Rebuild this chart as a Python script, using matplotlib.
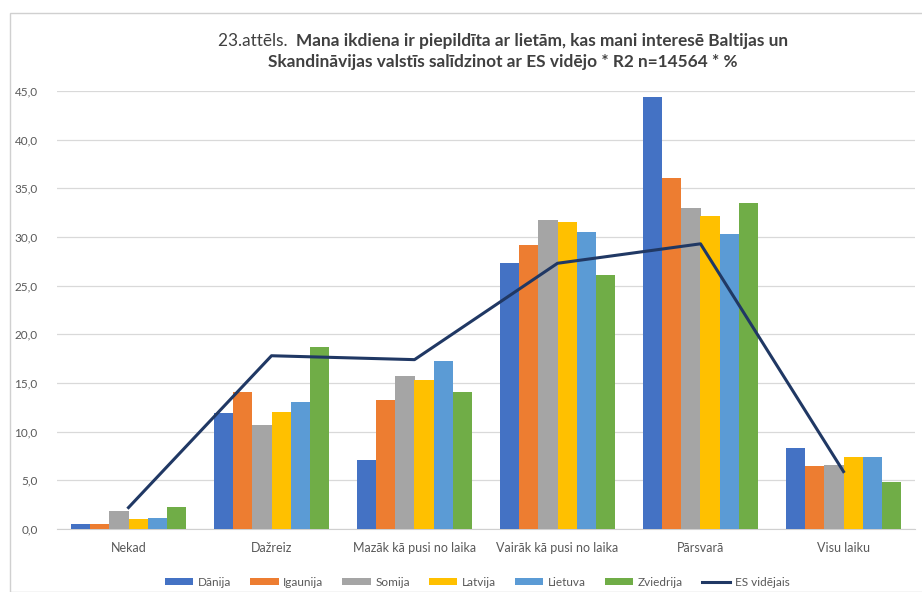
import matplotlib
matplotlib.use("Agg")
import matplotlib.pyplot as plt
import numpy as np
from matplotlib.patches import Rectangle
from matplotlib.ticker import FuncFormatter, MultipleLocator

categories = ["Nekad", "Dažreiz", "Mazāk kā pusi no laika",
              "Vairāk kā pusi no laika", "Pārsvarā", "Visu laiku"]

danija = [0.5, 11.9, 7.1, 27.3, 44.4, 8.3]
igaunija = [0.5, 14.1, 13.3, 29.2, 36.1, 6.5]
somija = [1.8, 10.7, 15.7, 31.7, 33.0, 6.6]
latvija = [1.0, 12.0, 15.3, 31.5, 32.2, 7.4]
lietuva = [1.1, 13.0, 17.3, 30.5, 30.3, 7.4]
zviedrija = [2.3, 18.7, 14.1, 26.1, 33.5, 4.8]
es_videjais = [2.2, 17.8, 17.4, 27.3, 29.3, 5.9]

series_names = ["Dānija", "Igaunija", "Somija", "Latvija", "Lietuva", "Zviedrija"]
series_values = [danija, igaunija, somija, latvija, lietuva, zviedrija]
colors = ["#4472C4", "#ED7D31", "#A5A5A5", "#FFC000", "#5B9BD5", "#70AD47"]
line_color = "#203864"

plt.rcParams["font.family"] = ["Lato", "DejaVu Sans"]

W, H = 922, 592
fig = plt.figure(figsize=(W / 100, H / 100), dpi=100)
fig.patch.set_facecolor("white")

# outer chart frame
fig.patches.append(Rectangle((10 / W, 0.0), 1.2, 1 - 13 / H,
                             transform=fig.transFigure, fill=False,
                             edgecolor="#d0d0d0", linewidth=1.0))

ax = fig.add_axes([57 / W, 1 - 529 / H, (915 - 57) / W, (529 - 91) / H])

x = np.arange(len(categories))
n = len(series_names)
group_w = 0.8
bw = group_w / n
for i, (name, vals, c) in enumerate(zip(series_names, series_values, colors)):
    offs = -group_w / 2 + bw * (i + 0.5)
    ax.bar(x + offs, vals, width=bw, color=c, label=name, zorder=3)

ax.plot(x, es_videjais, color=line_color, linewidth=2.2, label="ES vidējais", zorder=4)

ax.set_xlim(-0.5, len(categories) - 0.5)
ax.set_ylim(0, 45)
ax.yaxis.set_major_locator(MultipleLocator(5))
ax.yaxis.set_major_formatter(FuncFormatter(lambda v, p: f"{v:.1f}".replace(".", ",")))
ax.grid(axis="y", color="#d9d9d9", linewidth=0.9, zorder=0)
ax.set_axisbelow(True)
for s in ["top", "right", "left"]:
    ax.spines[s].set_visible(False)
ax.spines["bottom"].set_color("#d0d0d0")
ax.tick_params(axis="both", length=0, colors="#595959", labelsize=8.5)
ax.tick_params(axis="y", pad=14)
ax.tick_params(axis="x", pad=9, labelsize=9)
ax.set_xticks(x)
ax.set_xticklabels(categories)

# two-line title: normal lead-in followed by bold text, both lines centred
title_fs = 12.4
title_color = "#404040"
cx = 503 / W
lead = "23.attēls.  "
rest = "Mana ikdiena ir piepildīta ar lietām, kas mani interesē Baltijas un"
t1 = fig.text(0, 1 - 41 / H, lead, ha="left", va="center",
              fontsize=title_fs, color=title_color)
t2 = fig.text(0, 1 - 41 / H, rest, ha="left", va="center",
              fontsize=title_fs, fontweight="bold", color=title_color)
fig.canvas.draw()
r = fig.canvas.get_renderer()
w1 = t1.get_window_extent(r).width / (W)
w2 = t2.get_window_extent(r).width / (W)
start = cx - (w1 + w2) / 2
t1.set_x(start)
t2.set_x(start + w1)
fig.text(cx, 1 - 62 / H,
         "Skandināvijas valstīs salīdzinot ar ES vidējo * R2 n=14564 * %",
         ha="center", va="center", fontsize=title_fs, fontweight="bold",
         color=title_color)

handles, labels = ax.get_legend_handles_labels()
handles = handles[1:] + handles[:1]
labels = labels[1:] + labels[:1]
leg = ax.legend(handles, labels, loc="upper center", bbox_to_anchor=(0.49, -0.085),
                ncol=7, frameon=False, fontsize=8.5, handlelength=2.4,
                handleheight=0.5, columnspacing=1.6, handletextpad=0.4)
for t in leg.get_texts():
    t.set_color("#595959")

fig.savefig("out.png", dpi=100, facecolor="white")
